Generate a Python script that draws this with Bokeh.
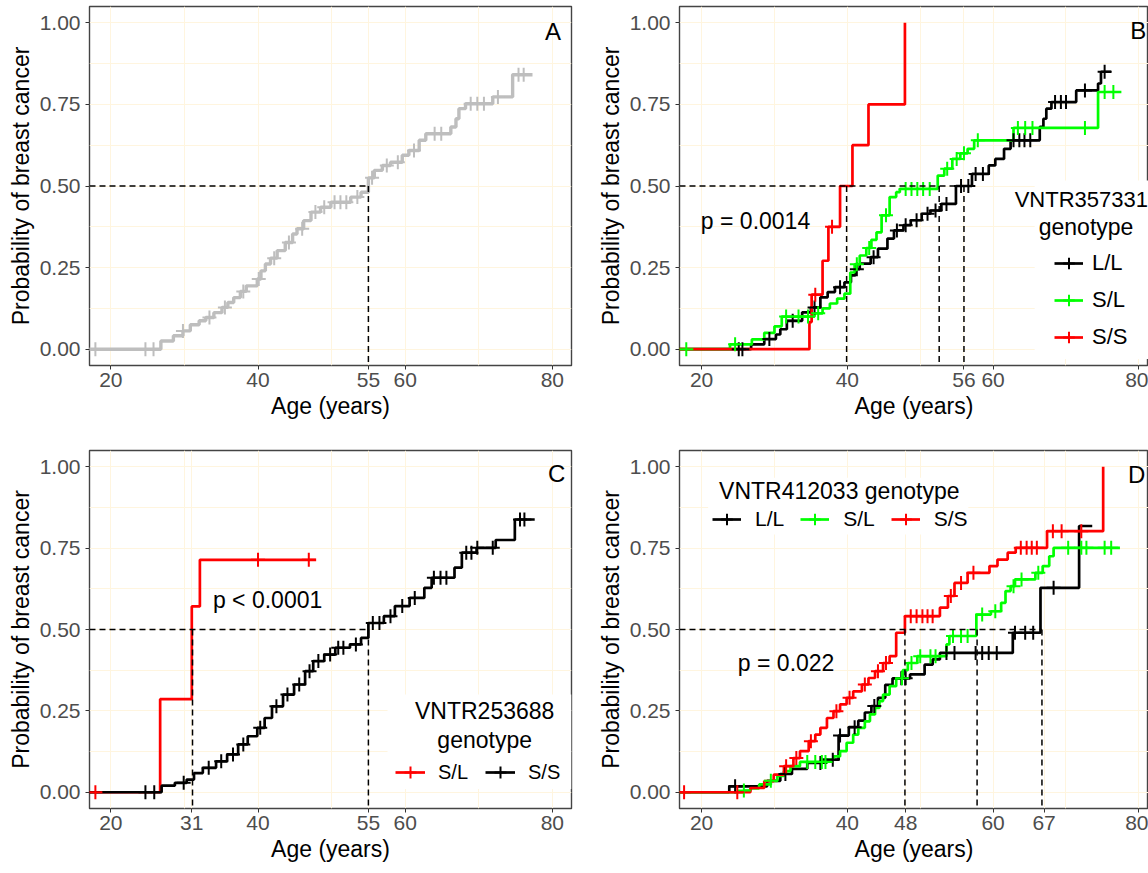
import numpy as np
from bokeh.plotting import figure
from bokeh.layouts import column, row
from bokeh.models import (Range1d, FixedTicker, NumeralTickFormatter, Label,
                          Legend, LegendItem, BoxAnnotation)
from bokeh.embed import file_html
from bokeh.resources import INLINE

FONT = "Liberation Sans"
GRID = "#FFF5DF"

# ---------------- shared axis values ----------------
Y_TICKS = [0.0, 0.25, 0.5, 0.75, 1.0]
Y_MINOR = [0.125, 0.375, 0.625, 0.875]
X_MINOR = [30, 50, 70]

GRAY, BLACK, GREEN, RED = "#BEBEBE", "black", "#00FF00", "#FF0000"

# ---------------- Panel A : all subjects ----------------
A_ticks = [20, 40, 55, 60, 80]
A_step_age = [26.8, 28.5, 29.8, 30.8, 32.0, 32.9, 34.0, 35.1, 35.9, 36.7,
              37.6, 38.4, 39.9, 40.4, 41.0, 41.7, 42.6, 43.7, 44.7, 45.3,
              46.2, 47.2, 48.5, 49.9, 52.6, 54.0, 55.0, 55.8, 56.9, 58.0,
              59.6, 60.5, 61.9, 62.8, 66.2, 66.9, 67.3, 68.2, 71.9, 74.6]
A_step_p = [0.025, 0.041, 0.056, 0.075, 0.087, 0.097, 0.112, 0.128, 0.143, 0.158,
            0.177, 0.194, 0.215, 0.240, 0.261, 0.279, 0.302, 0.327, 0.353, 0.369,
            0.394, 0.420, 0.435, 0.450, 0.466, 0.481, 0.525, 0.548, 0.563, 0.573,
            0.594, 0.609, 0.640, 0.660, 0.681, 0.706, 0.737, 0.752, 0.773, 0.841]
A_end = 77.3
A_censor = [17.9, 24.7, 25.8, 29.8, 33.4, 35.5, 38.0, 40.1, 42.2, 44.2, 46.0,
            47.8, 49.0, 50.4, 51.2, 52.0, 53.5, 55.5, 57.5, 59.0, 61.2, 64.0,
            64.9, 68.9, 69.8, 70.7, 72.6, 75.4, 76.1]
A_median = [55.0]

# ---------------- Panel B : VNTR357331 ----------------
B_ticks = [20, 40, 56, 60, 80]
B_groups = ["L/L", "S/L", "S/S"]
B_colors = [BLACK, GREEN, RED]
BLL_age = [26.8, 28.6, 30.2, 30.8, 31.7, 33.8, 35.0, 36.3, 37.3, 38.3, 39.6,
           40.5, 41.1, 41.7, 43.2, 44.2, 45.5, 46.4, 47.7, 48.7, 50.2, 51.4,
           52.9, 54.9, 57.1, 59.4, 60.3, 61.5, 62.4, 66.4, 66.9, 67.3, 68.0,
           71.4, 74.4, 74.8]
BLL_p = [0.015, 0.031, 0.045, 0.061, 0.087, 0.113, 0.128, 0.159, 0.175, 0.190, 0.205,
         0.226, 0.245, 0.262, 0.282, 0.308, 0.339, 0.364, 0.380, 0.395, 0.415, 0.425,
         0.445, 0.500, 0.537, 0.563, 0.583, 0.614, 0.640, 0.681, 0.706, 0.737, 0.757,
         0.793, 0.814, 0.850]
BLL_end = 76.2
BLL_censor = [25.1, 25.6, 29.3, 32.5, 35.5, 39.0, 41.3, 43.6, 46.8, 48.0, 49.5,
              51.0, 52.1, 53.6, 55.6, 56.6, 57.6, 58.6, 62.8, 63.6, 64.3, 65.1,
              68.5, 69.3, 70.0, 72.6, 75.3]
BSL_age = [23.9, 26.9, 28.6, 30.0, 31.0, 35.5, 36.6, 37.6, 38.6, 39.6, 40.4,
           41.0, 41.7, 42.6, 43.3, 44.0, 44.7, 45.8, 46.7, 47.2, 52.4, 53.3,
           54.4, 55.5, 56.5, 57.4, 62.8, 74.4]
BSL_p = [0.015, 0.030, 0.050, 0.070, 0.100, 0.110, 0.125, 0.140, 0.155, 0.170, 0.235,
         0.260, 0.287, 0.310, 0.335, 0.358, 0.410, 0.466, 0.481, 0.491, 0.532, 0.553,
         0.583, 0.600, 0.614, 0.640, 0.678, 0.788]
BSL_end = 77.6
BSL_censor = [17.9, 24.6, 31.6, 33.3, 34.6, 36.0, 41.3, 43.0, 45.3, 48.0, 48.8,
              49.6, 50.4, 51.3, 53.7, 55.0, 56.0, 57.9, 63.4, 64.4, 65.4, 72.6,
              75.3, 76.5]
BSS_age = [34.8, 35.1, 36.6, 37.4, 39.0, 40.7, 42.9, 47.9]
BSS_p = [0.083, 0.167, 0.271, 0.375, 0.500, 0.625, 0.750, 1.000]
BSS_end = 47.9
BSS_censor = [35.6, 37.9]
B_median = [39.9, 52.6, 56.0]
B_pval = "p = 0.0014"

# ---------------- Panel C : VNTR253688 ----------------
C_ticks = [20, 31, 40, 55, 60, 80]
C_groups = ["S/L", "S/S"]
C_colors = [RED, BLACK]
CSL_age = [26.7, 31.0, 32.1]
CSL_p = [0.286, 0.571, 0.714]
CSL_end = 47.9
CSL_censor = [17.9, 40.0, 46.9]
CSS_age = [26.9, 28.7, 30.3, 31.3, 32.5, 34.3, 35.8, 37.3, 38.6, 39.9, 40.9,
           41.9, 43.4, 44.9, 46.4, 47.5, 49.0, 50.5, 52.5, 54.0, 55.0, 57.1,
           58.6, 60.6, 62.6, 63.6, 66.7, 67.7, 69.7, 72.3, 74.9]
CSS_p = [0.020, 0.029, 0.039, 0.059, 0.075, 0.095, 0.116, 0.147, 0.172, 0.198, 0.228,
         0.264, 0.300, 0.331, 0.372, 0.403, 0.423, 0.444, 0.454, 0.474, 0.520, 0.541,
         0.572, 0.597, 0.628, 0.659, 0.690, 0.736, 0.751, 0.775, 0.838]
CSS_end = 77.6
CSS_censor = [24.7, 25.9, 29.9, 33.3, 35.0, 36.6, 38.0, 40.3, 42.5, 44.0, 45.6,
              47.0, 48.2, 49.8, 50.9, 51.6, 53.3, 55.6, 56.5, 58.0, 59.6, 61.3,
              63.9, 64.8, 65.6, 68.3, 69.0, 69.8, 71.9, 75.6, 76.2]
C_median = [31.1, 55.0]
C_pval = "p < 0.0001"

# ---------------- Panel D : VNTR412033 ----------------
D_ticks = [20, 40, 48, 60, 67, 80]
D_groups = ["L/L", "S/L", "S/S"]
D_colors = [BLACK, GREEN, RED]
DLL_age = [23.8, 29.0, 30.8, 32.4, 34.5, 36.5, 38.8, 40.2, 41.5, 42.4, 43.3,
           44.2, 45.2, 46.2, 48.6, 50.6, 51.7, 52.7, 62.7, 66.5, 71.8]
DLL_p = [0.018, 0.035, 0.056, 0.072, 0.090, 0.100, 0.174, 0.200, 0.220, 0.245, 0.265,
         0.290, 0.330, 0.350, 0.362, 0.392, 0.408, 0.428, 0.490, 0.628, 0.818]
DLL_end = 73.6
DLL_censor = [24.6, 31.5, 36.3, 38.0, 39.0, 41.0, 43.7, 47.4, 48.0, 53.6, 54.7,
              57.6, 58.5, 59.4, 60.5, 63.0, 64.4, 65.5, 68.3]
DSL_age = [25.8, 26.7, 27.9, 29.5, 30.4, 31.3, 32.2, 33.5, 37.3, 38.1, 39.0,
           39.9, 40.8, 41.5, 42.4, 43.1, 43.8, 44.4, 44.9, 45.8, 46.7, 47.6,
           48.3, 49.6, 53.6, 54.0, 57.7, 59.7, 61.1, 61.7, 62.4, 63.0, 65.8,
           66.8, 67.7, 68.3]
DSL_p = [0.005, 0.012, 0.024, 0.035, 0.050, 0.065, 0.080, 0.093, 0.100, 0.110, 0.126,
         0.152, 0.177, 0.198, 0.218, 0.239, 0.259, 0.280, 0.300, 0.326, 0.350, 0.375,
         0.397, 0.418, 0.454, 0.480, 0.546, 0.556, 0.582, 0.618, 0.633, 0.654, 0.674,
         0.695, 0.725, 0.751]
DSL_end = 77.4
DSL_censor = [25.8, 29.5, 34.5, 35.6, 36.5, 37.0, 47.5, 48.8, 50.0, 51.4, 52.1,
              54.5, 55.6, 56.5, 58.5, 60.3, 62.8, 63.9, 66.2, 70.3, 72.1, 72.8,
              75.3, 76.2]
DSS_age = [26.7, 28.6, 29.9, 31.3, 32.6, 33.5, 34.7, 35.6, 36.3, 37.2, 38.1,
           39.0, 39.9, 40.8, 42.0, 42.9, 43.8, 44.9, 45.8, 46.7, 47.9, 52.7,
           53.8, 54.7, 56.5, 59.5, 60.6, 62.0, 63.1, 67.4, 75.1]
DSS_p = [0.013, 0.034, 0.054, 0.080, 0.105, 0.126, 0.157, 0.177, 0.198, 0.228, 0.249,
         0.270, 0.290, 0.310, 0.331, 0.351, 0.372, 0.397, 0.418, 0.490, 0.541, 0.567,
         0.603, 0.643, 0.674, 0.695, 0.715, 0.736, 0.751, 0.802, 1.000]
DSS_end = 75.1
DSS_censor = [17.6, 24.9, 31.6, 33.0, 35.0, 38.5, 40.3, 42.4, 44.2, 45.3, 48.7,
              49.5, 50.3, 51.0, 51.7, 54.2, 55.6, 57.3, 63.8, 64.6, 65.3, 66.0,
              68.2, 69.4, 72.1]
D_median = [47.9, 57.8, 66.7]
D_pval = "p = 0.022"

XR_LEFT = (17.1, 82.6)     # left-column panels
XR_RIGHT = (16.97, 81.32)  # right-column panels (cut at the window edge)


def make_fig(w, h, lb, rb, tb, bb, xr, ticks):
    p = figure(width=w, height=h, x_range=Range1d(*xr), y_range=Range1d(-0.05, 1.05),
               output_backend="svg", toolbar_location=None,
               min_border_left=lb, min_border_right=rb,
               min_border_top=tb, min_border_bottom=bb)
    p.outline_line_color = "#444444"
    p.outline_line_width = 1.4
    p.xaxis.ticker = FixedTicker(ticks=ticks, minor_ticks=X_MINOR)
    p.yaxis.ticker = FixedTicker(ticks=Y_TICKS, minor_ticks=Y_MINOR)
    p.yaxis.formatter = NumeralTickFormatter(format="0.00")
    p.xaxis.axis_label = "Age (years)"
    p.yaxis.axis_label = "Probability of breast cancer"
    for ax in (p.xaxis[0], p.yaxis[0]):
        ax.axis_line_color = None
        ax.major_tick_out = 4
        ax.major_tick_in = 0
        ax.major_tick_line_color = "#333333"
        ax.minor_tick_line_color = None
        ax.major_label_text_font = FONT
        ax.major_label_text_font_size = "21px"
        ax.major_label_text_color = "#4D4D4D"
        ax.axis_label_text_font = FONT
        ax.axis_label_text_font_size = "23px"
        ax.axis_label_text_font_style = "normal"
        ax.axis_label_text_color = "black"
    p.xaxis.major_label_standoff = 3
    p.xaxis.axis_label_standoff = 3
    p.yaxis.major_label_standoff = 5
    p.yaxis.axis_label_standoff = 3
    for g in (p.xgrid[0], p.ygrid[0]):
        g.grid_line_color = GRID
        g.minor_grid_line_color = GRID
        g.grid_line_width = 1
    return p


def step_xy(ages, ps, end):
    xs = [0.0] + list(ages) + [end]
    ys = [0.0] + list(ps) + [ps[-1]]
    return xs, ys


def censor_y(ages, ps, cens):
    a = np.array([0.0] + list(ages))
    v = np.array([0.0] + list(ps))
    idx = np.searchsorted(a, np.array(cens), side="right") - 1
    return v[idx]


def add_curves(p, curves, lw=2.7):
    """curves: list of (key, color, ages, ps, end, censor)"""
    lines, marks = {}, {}
    for key, color, ages, ps, end, cens in curves:
        xs, ys = step_xy(ages, ps, end)
        lines[key] = p.step(xs, ys, mode="after", line_color=color, line_width=lw)
    for key, color, ages, ps, end, cens in curves:
        marks[key] = p.scatter(cens, censor_y(ages, ps, cens), marker="cross", size=14,
                               line_color=color, line_width=2)
    return lines, marks


def add_median_lines(p, medians, x_start, y_bottom):
    p.segment(x0=[x_start], y0=[0.5], x1=[max(medians)], y1=[0.5],
              line_color="black", line_width=1.5, line_dash="6 4")
    n = len(medians)
    p.segment(x0=medians, y0=[0.5] * n, x1=medians, y1=[y_bottom] * n,
              line_color="black", line_width=1.5, line_dash="6 4")


def add_text(p, x, y, text, size="23px", align="center", color="black"):
    p.add_layout(Label(x=x, y=y, text=text, text_font=FONT, text_font_size=size,
                       text_align=align, text_baseline="middle", text_color=color))


def white_box(p, left, right, bottom, top):
    p.add_layout(BoxAnnotation(left=left, right=right, bottom=bottom, top=top,
                               fill_color="white", fill_alpha=1.0, line_color=None,
                               level="underlay"))


def add_legend(p, groups, lines, marks, loc, orient, gw, standoff, spacing, fsize):
    items = [LegendItem(label=g, renderers=[lines[g], marks[g]]) for g in groups]
    lg = Legend(items=items, location=loc, orientation=orient,
                glyph_width=gw, glyph_height=30, label_height=30,
                label_standoff=standoff, spacing=spacing, padding=0, margin=0,
                border_line_color=None, background_fill_color="white",
                background_fill_alpha=1.0, label_text_font=FONT,
                label_text_font_size=fsize, label_text_color="black")
    p.add_layout(lg)


def curve_list(groups, colors, data):
    return [(g, c) + tuple(d) for g, c, d in zip(groups, colors, data)]


# ---------------- Panel A ----------------
pA = make_fig(594, 444, 89, 23, 6, 79, XR_LEFT, A_ticks)
add_curves(pA, [("all", GRAY, A_step_age, A_step_p, A_end, A_censor)], lw=3.4)
add_median_lines(pA, A_median, XR_LEFT[0], -0.05)
add_text(pA, 80.1, 0.972, "A", size="24px")

# ---------------- Panel B ----------------
pB = make_fig(554, 444, 81, 0, 6, 79, XR_RIGHT, B_ticks)
white_box(pB, 65.7, XR_RIGHT[1], -0.03, 0.517)
lB, mB = add_curves(pB, curve_list(B_groups, B_colors, [
    (BLL_age, BLL_p, BLL_end, BLL_censor),
    (BSL_age, BSL_p, BSL_end, BSL_censor),
    (BSS_age, BSS_p, BSS_end, BSS_censor)]))
add_median_lines(pB, B_median, XR_RIGHT[0], -0.05)
add_text(pB, 27.4, 0.394, B_pval)
add_text(pB, 79.9, 0.975, "B", size="24px")
add_text(pB, 72.1, 0.458, "VNTR357331", size="22px")
add_text(pB, 72.75, 0.373, "genotype")
add_legend(pB, B_groups, lB, mB, (375, 13), "vertical", 29, 9, 7, "22px")

# ---------------- Panel C ----------------
pC = make_fig(594, 429, 89, 23, 6, 65, XR_LEFT, C_ticks)
white_box(pC, 57.6, XR_LEFT[1], 0.01, 0.30)
lC, mC = add_curves(pC, curve_list(C_groups, C_colors, [
    (CSL_age, CSL_p, CSL_end, CSL_censor),
    (CSS_age, CSS_p, CSS_end, CSS_censor)]))
add_median_lines(pC, C_median, XR_LEFT[0], -0.05)
add_text(pC, 41.3, 0.592, C_pval)
add_text(pC, 80.6, 0.978, "C", size="24px")
add_text(pC, 70.8, 0.249, "VNTR253688")
add_text(pC, 70.8, 0.162, "genotype")
add_legend(pC, C_groups, lC, mC, (306, 21), "horizontal", 30, 13, 17, "20px")

# ---------------- Panel D ----------------
pD = make_fig(554, 429, 81, 0, 6, 65, XR_RIGHT, D_ticks)
white_box(pD, 20.9, 56.6, 0.792, 0.966)
lD, mD = add_curves(pD, curve_list(D_groups, D_colors, [
    (DLL_age, DLL_p, DLL_end, DLL_censor),
    (DSL_age, DSL_p, DSL_end, DSL_censor),
    (DSS_age, DSS_p, DSS_end, DSS_censor)]))
add_median_lines(pD, D_median, XR_RIGHT[0], -0.05)
add_text(pD, 31.6, 0.397, D_pval)
add_text(pD, 79.7, 0.977, "D", size="24px")
add_text(pD, 22.4, 0.925, "VNTR412033 genotype", align="left")
add_legend(pD, D_groups, lD, mD, (33, 274), "horizontal", 29, 14, 16, "21px")

layout = column(row(pA, pB, spacing=0), row(pC, pD, spacing=0), spacing=0)

with open("out.html", "w") as f:
    f.write(file_html(layout, INLINE, title="Breast cancer probability by VNTR genotype"))
